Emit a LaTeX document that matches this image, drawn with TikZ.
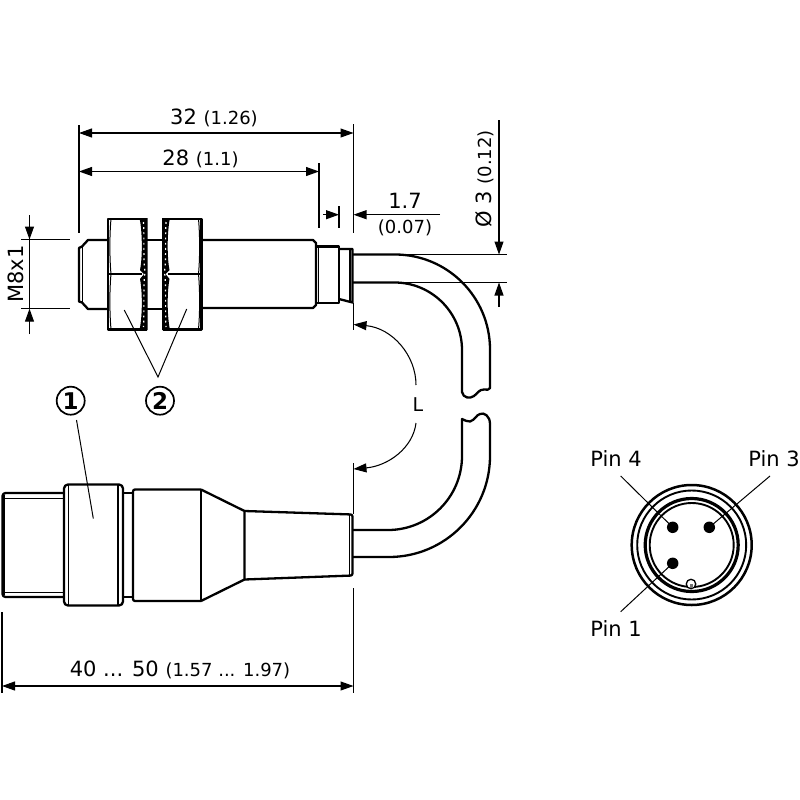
\documentclass[tikz,border=0pt]{standalone}
\usepackage{fontspec}
\setmainfont{DejaVu Sans}
\usetikzlibrary{arrows.meta}
\newcommand{\bigsz}{\fontsize{21}{25}\selectfont}
\newcommand{\smallsz}{\fontsize{18}{21}\selectfont}
\newcommand{\nutbody}{%
  \draw[part] (146.5,218.7) -- (108,218.7) -- (108,329.5) -- (146.5,329.5);
  \draw[part] (108,274) -- (142,274);
  \draw[thin line] (111,219) .. controls (109.5,235) and (109.5,258) .. (111,274) .. controls (109.5,290) and (109.5,313) .. (111,329);
  \fill[black] (139.5,218) .. controls (142.5,232) and (142.5,258) .. (140,270) -- (144,274) -- (140,279) .. controls (142.5,292) and (142.5,316) .. (139.5,330) -- (147.5,330) -- (147.5,218) -- cycle;
  \draw[white,line width=1.2pt,dash pattern=on 1.8pt off 3.4pt] (143.5,222) .. controls (144.5,240) and (143,258) .. (145,272) .. controls (143,286) and (144.5,310) .. (143.5,327);
}
\tikzset{
  x=1pt,y=-1pt,
  part/.style={line width=2.3pt,black,line join=round},
  thin line/.style={line width=1pt,black},
  dimline/.style={line width=1.05pt,black},
  tipped/.style={dimline,-{Triangle[length=13pt,width=9pt]}},
  bothtipped/.style={dimline,{Triangle[length=13pt,width=9pt]}-{Triangle[length=13pt,width=9pt]}},
  lbl/.style={anchor=base,inner sep=0pt,black,font=\bigsz},
  callout/.style={circle,draw=black,line width=1.7pt,minimum size=28pt,inner sep=0pt,font=\fontsize{23}{25}\selectfont\bfseries},
}
\begin{document}
\begin{tikzpicture}
\useasboundingbox (0,0) rectangle (800,800);
\fill[white] (0,0) rectangle (800,800);

% ---------- sensor (top) ----------
\draw[part] (108,240) -- (88,240) -- (82,246.5) -- (79,248) -- (79,301.5) -- (82,302.5) -- (88,309) -- (108,309);
\draw[thin line,line width=1.3pt] (82.5,247) -- (82.5,302);
\nutbody
\begin{scope}[xshift=309.5pt,xscale=-1]
\nutbody
\end{scope}
\draw[part,line width=1.6pt] (147,240) -- (163,240) (147,309) -- (163,309);
\draw[part] (202,240) -- (313,240) -- (316,243) -- (316,305) -- (313,308) -- (202,308);
\draw[part] (316,246.5) -- (339,246.5) -- (339,303) -- (316,303);
\draw[thin line] (318.5,246.5) -- (318.5,303);
\draw[part] (339,249) -- (352.5,249) -- (352.5,302.5) -- (339,299);
\draw[line width=1.6pt] (350,250) -- (350,302);

% cable, upper part
\draw[part] (353,254.5) -- (395,254.5) arc[start angle=-90,end angle=0,radius=95] -- (490,388) .. controls (489,391) and (487,389) .. (484,389.5) .. controls (479,389.5) and (478,393) .. (474,396) .. controls (470,399) and (463,398) .. (462,392) -- (462,350) arc[start angle=0,end angle=-90,radius=67.5] -- (353,282.5);

% cable, lower part
\draw[part] (490,424) .. controls (490,416) and (484,412) .. (480,414) .. controls (476,415) and (475,420) .. (470,421.5) .. controls (467,422) and (465,420) .. (462,419) -- (462,456) arc[start angle=0,end angle=90,radius=74] -- (353,530);
\draw[part] (490,424) -- (490,456) arc[start angle=0,end angle=90,radius=101] -- (353,557);

% ---------- connector (bottom) ----------
\draw[part,rounded corners=3pt] (64,493) -- (2.5,493) -- (2.5,597) -- (64,597);
\draw[line width=3pt] (3.2,495) -- (3.2,595);
\draw[thin line] (5,498) -- (64,498) (5,592.5) -- (64,592.5);
\draw[part,rounded corners=4pt] (64,484.5) rectangle (123,605.5);
\draw[line width=1.5pt] (68.5,485) -- (68.5,605) (118,485) -- (118,605);
\draw[part,line width=1.7pt] (123,493) -- (133,493) (123,597) -- (133,597);
\draw[part,rounded corners=2pt] (201,489.5) -- (133,489.5) -- (133,601) -- (201,601);
\draw[part] (201,489.5) -- (201,601);
\draw[part] (201,489.5) -- (244.5,511) -- (244.5,579.5) -- (201,601);
\draw[part,rounded corners=2pt] (244.5,511) -- (352.5,514.5) -- (352.5,575.5) -- (244.5,579.5);
\draw[line width=1.3pt] (349.5,514.5) -- (349.5,575.5);

% ---------- end face ----------
\coordinate (fc) at (691.7,545);
\draw[line width=2.5pt] (fc) circle[radius=60];
\draw[line width=1.9pt] (fc) circle[radius=54.5];
\draw[line width=3.2pt] (fc) circle[radius=46.5];
\draw[line width=1.9pt] (fc) circle[radius=42];
\node[circle,fill=black,minimum size=11.5pt,inner sep=0pt] (p4) at (672.7,527.3) {};
\node[circle,fill=black,minimum size=11.5pt,inner sep=0pt] (p3) at (709.3,527.3) {};
\node[circle,fill=black,minimum size=11.5pt,inner sep=0pt] (p1) at (672.7,563.3) {};
\node[circle,draw=black,fill=white,line width=1.3pt,minimum size=9.5pt,inner sep=0pt] (key) at (691,584) {};
\fill[black!55] (689.5,584) rectangle (692.5,588);

\node[lbl] (pin4) at (616,466.5) {Pin 4};
\node[lbl] (pin3) at (774,466.5) {Pin 3};
\node[lbl] (pin1) at (616,636.5) {Pin 1};
\coordinate (l4) at (620.7,476);
\coordinate (l3) at (770,476);
\coordinate (l1) at (620.7,611.7);
\draw[thin line] (l4) -- (p4.center);
\draw[thin line] (l3) -- (p3.center);
\draw[thin line] (l1) -- (p1.center);

% ---------- callouts ----------
\node[callout] (c1) at (70.7,400.7) {1};
\node[callout] (c2) at (160,400.7) {2};
\coordinate (c1end) at (93.3,518.5);
\coordinate (c1start) at (76.5,420);
\coordinate (c2apex) at (158,377);
\coordinate (c2a) at (124.3,310);
\coordinate (c2b) at (186.7,309);
\draw[thin line] (c1start) -- (c1end);
\draw[thin line] (c2a) -- (c2apex) -- (c2b);

% ---------- dimensions ----------
\draw[dimline] (79,125) -- (79,233);
\draw[dimline] (353.5,124) -- (353.5,233);
\draw[dimline] (319,163) -- (319,228);
\draw[dimline] (339,206) -- (339,228);
\draw[dimline] (353.5,303) -- (353.5,330);
\draw[dimline] (353.5,463) -- (353.5,514);
\draw[dimline] (353.5,588) -- (353.5,693);
\draw[dimline] (2,612) -- (2,693);
\draw[dimline] (21,239.5) -- (70,239.5);
\draw[dimline] (21,308.7) -- (70,308.7);
\draw[dimline] (353,254.5) -- (507,254.5);
\draw[dimline] (353,282.5) -- (507,282.5);

\coordinate (d32a) at (79,133); \coordinate (d32b) at (353.5,133);
\coordinate (d28a) at (79,171.5); \coordinate (d28b) at (319,171.5);
\coordinate (d40a) at (2,686); \coordinate (d40b) at (353.5,686);
\draw[bothtipped] (d32a) -- (d32b);
\draw[bothtipped] (d28a) -- (d28b);
\draw[bothtipped] (d40a) -- (d40b);

\coordinate (d17a) at (323,214.7); \coordinate (d17b) at (339,214.7);
\coordinate (d17c) at (440,214.7); \coordinate (d17d) at (353.5,214.7);
\draw[tipped] (d17a) -- (d17b);
\draw[tipped] (d17c) -- (d17d);

\coordinate (d3a) at (499,120); \coordinate (d3b) at (499,254.5);
\coordinate (d3c) at (499,307); \coordinate (d3d) at (499,282.5);
\draw[tipped] (d3a) -- (d3b);
\draw[tipped] (d3c) -- (d3d);

\coordinate (m8a) at (29.5,215); \coordinate (m8b) at (29.5,239.5);
\coordinate (m8c) at (29.5,334); \coordinate (m8d) at (29.5,308.7);
\draw[tipped] (m8a) -- (m8b);
\draw[dimline] (m8b) -- (m8d);
\draw[tipped] (m8c) -- (m8d);

\node[lbl] (t32) at (214,124.3) {32 {\smallsz(1.26)}};
\node[lbl] (t28) at (200.5,165) {28 {\smallsz(1.1)}};
\node[lbl] (t17) at (405,208) {1.7};
\node[lbl,font=\smallsz] (t07) at (405,233.5) {(0.07)};
\node[lbl,rotate=90] (t3) at (491,179) {Ø 3 {\smallsz(0.12)}};
\node[lbl,rotate=90] (tm8) at (23.5,274) {M8x1};
\node[lbl] (t40) at (180,676) {40 ... 50 {\smallsz(1.57 ... 1.97)}};

% L dimension
\node[lbl,font=\fontsize{19}{23}\selectfont] (tL) at (418,411) {L};
\coordinate (la) at (416,385);
\coordinate (lb) at (353.5,324.5);
\coordinate (lc) at (416,423);
\coordinate (ld) at (353.5,469);
\draw[tipped] (la) .. controls (416,355) and (392,328) .. (lb);
\draw[tipped] (lc) .. controls (413,448) and (388,466) .. (ld);
\end{tikzpicture}
\end{document}
